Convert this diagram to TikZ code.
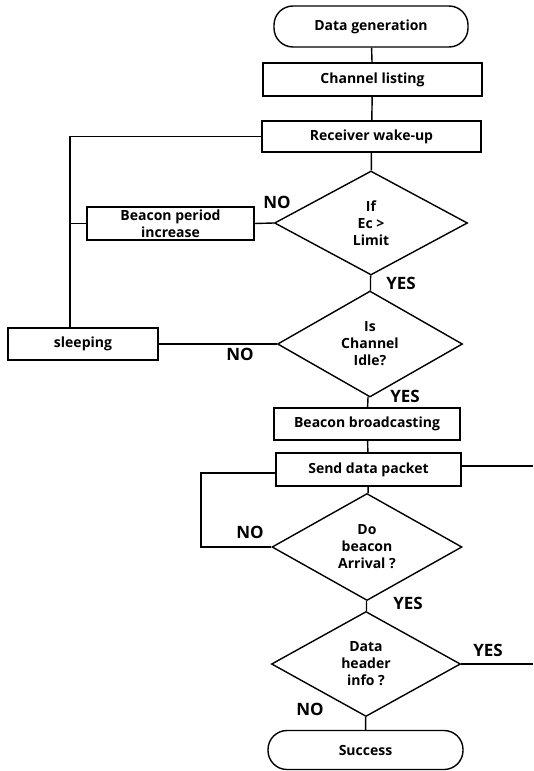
\documentclass[tikz,border=0pt]{standalone}
\usepackage{fontspec}
\setmainfont{Open Sans}
\usetikzlibrary{shapes.geometric}
\begin{document}
\begin{tikzpicture}[x=1pt,y=-1pt,
  line width=1.4pt,
  every node/.style={font=\fontsize{14}{17}\selectfont\bfseries},
  box/.style={draw,rectangle,inner sep=0pt,align=center},
  term/.style={draw,rectangle,rounded corners=19pt,inner sep=0pt},
  dec/.style={draw,diamond,inner sep=0pt,align=center,font=\fontsize{14}{17}\selectfont\bfseries},
  lab/.style={font=\fontsize{17}{19}\selectfont\bfseries}]
\useasboundingbox (0,0) rectangle (533,771);
\node[term,minimum width=194pt,minimum height=41pt] (dg) at (371,26.5) {Data generation};
\node[box,minimum width=219pt,minimum height=33pt] (cl) at (372.5,79.5) {Channel listing};
\node[box,minimum width=219pt,minimum height=31pt] (rw) at (371.5,136.5) {Receiver wake-up};
\node[dec,minimum width=193pt,minimum height=104pt] (d1) at (371,223) {If\\Ec >\\Limit};
\node[box,minimum width=167pt,minimum height=33pt,font=\fontsize{14}{16.5}\selectfont\bfseries] (bp) at (170.5,223.5) {Beacon period\\increase};
\node[dec,minimum width=185pt,minimum height=106pt] (d2) at (370,344) {Is\\Channel\\Idle?};
\node[box,minimum width=150pt,minimum height=32pt] (sl) at (83,344) {sleeping};
\node[box,minimum width=186pt,minimum height=32pt] (bb) at (367,424) {Beacon broadcasting};
\node[box,minimum width=185pt,minimum height=33pt] (sd) at (368.5,469.5) {Send data packet};
\node[dec,minimum width=190pt,minimum height=107pt] (d3) at (367,547) {Do\\beacon\\Arrival ?};
\node[dec,minimum width=189pt,minimum height=105pt] (d4) at (366,664) {Data\\header\\info ?};
\node[term,minimum width=195pt,minimum height=39pt] (su) at (365.5,750) {Success};
\coordinate (lx) at (70,0);
\coordinate (lx2) at (201,473);
\coordinate (re1) at (533,466);
\coordinate (re2) at (533,664);
\draw (dg) -- (cl);
\draw (cl) -- (rw);
\draw (rw) -- (d1);
\draw (d1) -- (d2);
\draw (d2) -- (bb);
\draw (bb) -- (sd);
\draw (sd) -- (d3);
\draw (d3) -- (d4);
\draw (d4) -- (su);
\draw (rw.west) -| (lx |- sl.north);
\draw (bp.west) -- (lx |- bp.west);
\draw (d1.west) -- (bp.east);
\draw (d2.west) -- (sl.east);
\draw (sd.east |- re1) -- (re1);
\draw (sd.west |- lx2) -- (lx2) -- (lx2 |- d3.west) -- (d3.west);
\draw (d4.east) -- (re2);
\node[lab] (n1) at (277,202) {NO};
\node[lab] (y1) at (401,283) {YES};
\node[lab] (n2) at (240,354) {NO};
\node[lab] (y2) at (405,396) {YES};
\node[lab] (n3) at (250,532) {NO};
\node[lab] (y3) at (408,603) {YES};
\node[lab] (y4) at (488,650) {YES};
\node[lab] (n4) at (310,709) {NO};
\end{tikzpicture}
\end{document}
